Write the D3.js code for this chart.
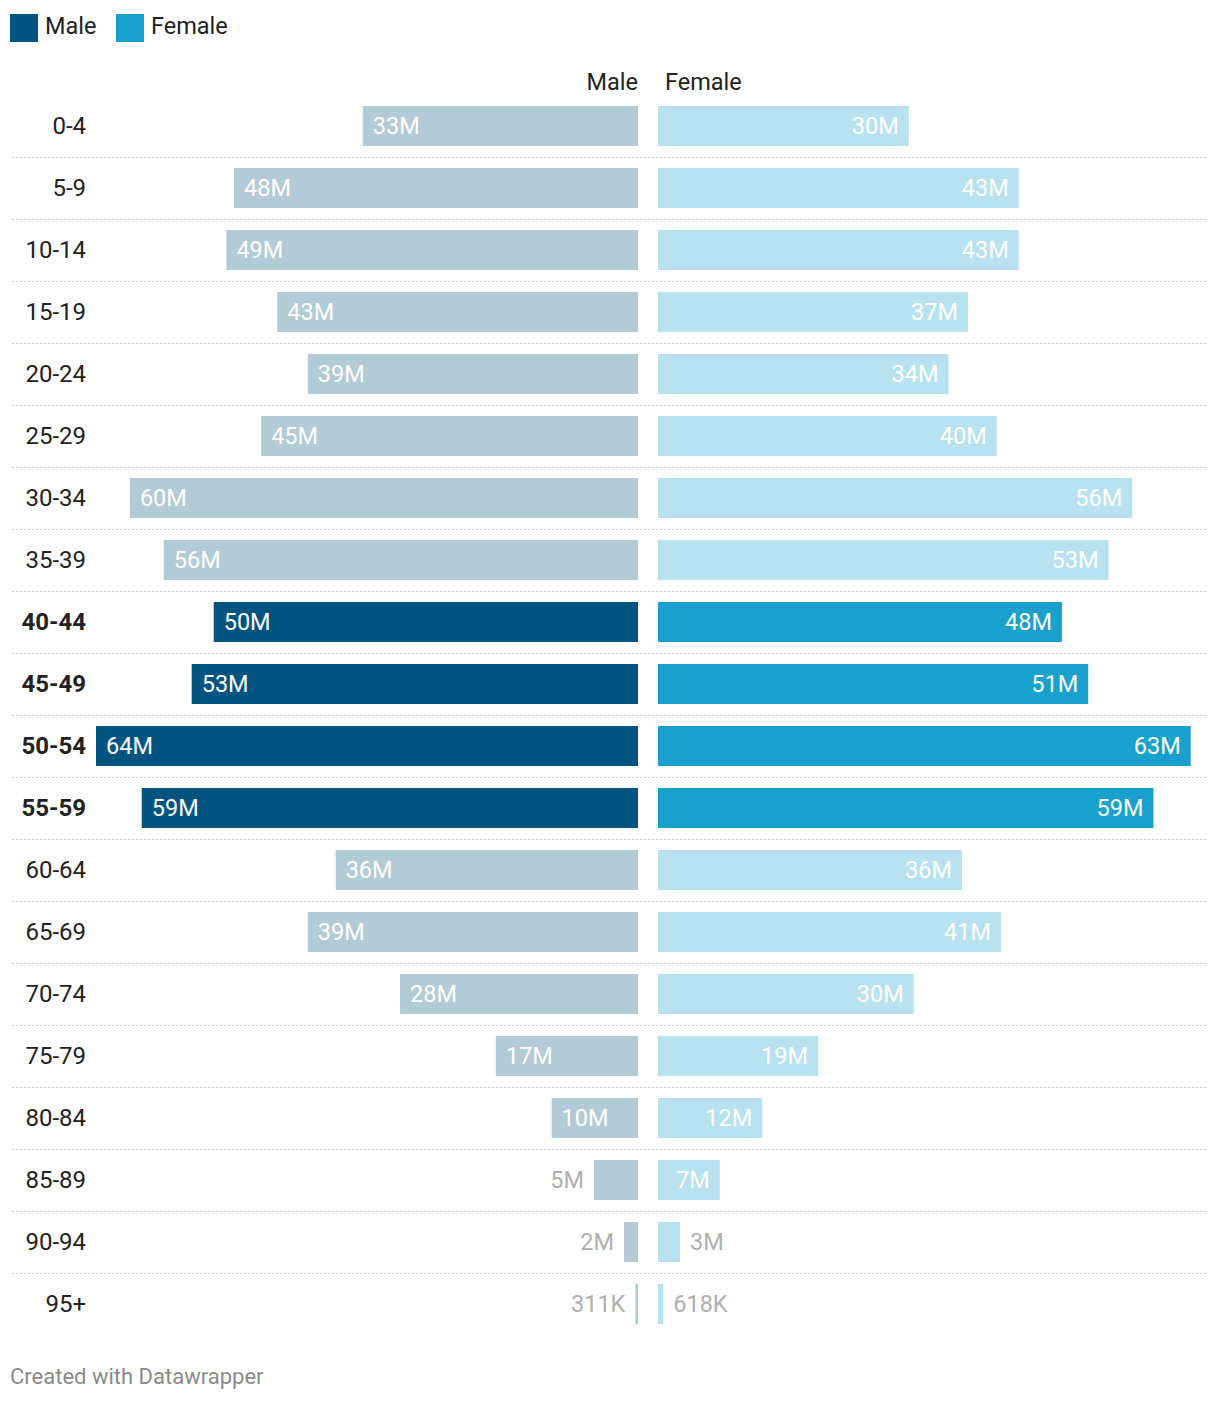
<!DOCTYPE html>
<html>
<head>
<meta charset="utf-8">
<script src="https://d3js.org/d3.v7.min.js"></script>
<style>
  body { margin: 0; background: #fff; font-family: Roboto, "Noto Sans", sans-serif; }
  .legend text { font-size: 23.5px; fill: #222; }
  .row-label { font-size: 24px; fill: #222; }
  .row-label.hi { font-weight: 700; }
  .val { font-size: 23.5px; }
  .head { font-size: 23.5px; fill: #222; }
  .credit { font-size: 22px; fill: #8a8a8a; }
</style>
</head>
<body>
<div id="chart"></div>
<script>
var ages = ["0-4","5-9","10-14","15-19","20-24","25-29","30-34","35-39","40-44","45-49",
            "50-54","55-59","60-64","65-69","70-74","75-79","80-84","85-89","90-94","95+"];
var male = [32.5, 47.7, 48.6, 42.6, 39.0, 44.5, 60.0, 56.0, 50.1, 52.7,
            64.0, 58.6, 35.7, 39.0, 28.1, 16.8, 10.2, 5.2, 1.65, 0.311];
var female = [29.6, 42.6, 42.6, 36.6, 34.3, 40.0, 56.0, 53.2, 47.7, 50.8,
              62.9, 58.5, 35.9, 40.5, 30.2, 18.9, 12.3, 7.3, 2.6, 0.618];
var highlighted = ["40-44","45-49","50-54","55-59"];

var width = 1220, height = 1402;
var colors = {
  maleHi: "#015480", femaleHi: "#18a1cd",
  maleLo: "#b3cad7", femaleLo: "#b8e2f0",
  outside: "#b0b0b0"
};

function fmt(v) {
  return v >= 1 ? Math.round(v) + "M" : Math.round(v * 1000) + "K";
}

var svg = d3.select("#chart").append("svg")
    .attr("width", width)
    .attr("height", height);

// legend
var legend = svg.append("g").attr("class", "legend");
var legendItems = [
  {name: "Male", color: colors.maleHi, x: 10},
  {name: "Female", color: colors.femaleHi, x: 116}
];
legend.selectAll("rect").data(legendItems).enter().append("rect")
    .attr("x", function(d) { return d.x; })
    .attr("y", 14)
    .attr("width", 28)
    .attr("height", 28)
    .attr("fill", function(d) { return d.color; });
legend.selectAll("text").data(legendItems).enter().append("text")
    .attr("x", function(d) { return d.x + 35; })
    .attr("y", 34)
    .text(function(d) { return d.name; });

// scales
var y = d3.scaleBand()
    .domain(ages)
    .range([95, 95 + 62 * ages.length])
    .paddingInner(22 / 62)
    .paddingOuter(11 / 62);

var xMale = d3.scaleLinear().domain([0, 64]).range([638, 96]);
var xFemale = d3.scaleLinear().domain([0, 64]).range([658, 1200]);

// column headers
svg.append("text").attr("class", "head")
    .attr("x", 638).attr("y", 90)
    .attr("text-anchor", "end")
    .text("Male");
svg.append("text").attr("class", "head")
    .attr("x", 665).attr("y", 90)
    .text("Female");

var data = ages.map(function(a, i) {
  return {age: a, male: male[i], female: female[i], hi: highlighted.indexOf(a) >= 0};
});

// separators
svg.append("g").selectAll("line")
    .data(data.slice(0, data.length - 1))
    .enter().append("line")
    .attr("x1", 12).attr("x2", 1208)
    .attr("y1", function(d) { return y(d.age) + y.bandwidth() + 11.5; })
    .attr("y2", function(d) { return y(d.age) + y.bandwidth() + 11.5; })
    .attr("stroke", "#c8c8c8")
    .attr("stroke-width", 1)
    .attr("stroke-dasharray", "2,2");

var rows = svg.append("g").selectAll("g")
    .data(data)
    .enter().append("g");

rows.append("text")
    .attr("class", function(d) { return d.hi ? "row-label hi" : "row-label"; })
    .attr("x", 86)
    .attr("y", function(d) { return y(d.age) + y.bandwidth() / 2 + 8; })
    .attr("text-anchor", "end")
    .text(function(d) { return d.age; });

rows.append("rect")
    .attr("x", function(d) { return xMale(d.male); })
    .attr("y", function(d) { return y(d.age); })
    .attr("width", function(d) { return xMale(0) - xMale(d.male); })
    .attr("height", y.bandwidth())
    .attr("fill", function(d) { return d.hi ? colors.maleHi : colors.maleLo; });

rows.append("rect")
    .attr("x", xFemale(0))
    .attr("y", function(d) { return y(d.age); })
    .attr("width", function(d) { return xFemale(d.female) - xFemale(0); })
    .attr("height", y.bandwidth())
    .attr("fill", function(d) { return d.hi ? colors.femaleHi : colors.femaleLo; });

// value labels: inside if room, else outside in gray
rows.append("text")
    .attr("class", "val")
    .each(function(d) {
      var t = d3.select(this).text(fmt(d.male));
      var w = this.getComputedTextLength();
      var barW = xMale(0) - xMale(d.male);
      var cy = y(d.age) + y.bandwidth() / 2 + 8;
      if (w + 20 <= barW) {
        t.attr("x", xMale(d.male) + 10).attr("y", cy)
         .attr("text-anchor", "start").attr("fill", "#fff");
      } else {
        t.attr("x", xMale(d.male) - 10).attr("y", cy)
         .attr("text-anchor", "end").attr("fill", colors.outside);
      }
    });

rows.append("text")
    .attr("class", "val")
    .each(function(d) {
      var t = d3.select(this).text(fmt(d.female));
      var w = this.getComputedTextLength();
      var barW = xFemale(d.female) - xFemale(0);
      var cy = y(d.age) + y.bandwidth() / 2 + 8;
      if (w + 20 <= barW) {
        t.attr("x", xFemale(d.female) - 10).attr("y", cy)
         .attr("text-anchor", "end").attr("fill", "#fff");
      } else {
        t.attr("x", xFemale(d.female) + 10).attr("y", cy)
         .attr("text-anchor", "start").attr("fill", colors.outside);
      }
    });

svg.append("text").attr("class", "credit")
    .attr("x", 10).attr("y", 1384)
    .text("Created with Datawrapper");
</script>
</body>
</html>
